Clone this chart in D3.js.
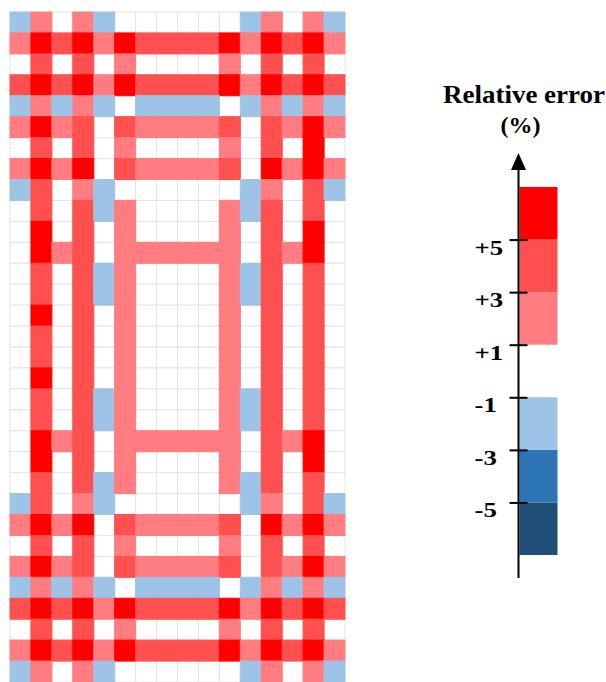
<!DOCTYPE html>
<html>
<head>
<meta charset="utf-8">
<script src="https://cdn.jsdelivr.net/npm/d3@7"></script>
<style>
  body { margin: 0; background: #fff; }
  svg { display: block; }
  .serif { font-family: "Liberation Serif", "Times New Roman", "DejaVu Serif", serif; font-weight: bold; }
</style>
</head>
<body>
<svg id="chart"></svg>
<script>
// relative error (%) per cell, one array per grid row (top to bottom)
// -2 = between -1 and -3, 0 = within +-1, 2 = +1..+3, 4 = +3..+5, 6 = above +5
var errorRows = [
  [-2, 2, 0, 2,-2, 0, 0, 0, 0, 0, 0,-2, 2, 0, 2,-2],
  [ 2, 6, 4, 6, 2, 6, 4, 4, 4, 4, 6, 2, 6, 4, 6, 2],
  [ 0, 4, 0, 4, 0, 2, 0, 0, 0, 0, 2, 0, 4, 0, 4, 0],
  [ 4, 6, 4, 6, 2, 6, 4, 4, 4, 4, 6, 2, 6, 4, 6, 4],
  [-2, 2,-2, 2,-2, 0,-2,-2,-2,-2, 0,-2, 2,-2, 2,-2],
  [ 2, 6, 2, 4, 0, 4, 2, 2, 2, 2, 4, 0, 4, 2, 6, 2],
  [ 0, 4, 0, 4, 0, 2, 0, 0, 0, 0, 2, 0, 4, 0, 6, 0],
  [ 2, 6, 2, 6, 0, 4, 2, 2, 2, 2, 4, 0, 6, 2, 6, 2],
  [-2, 4, 0, 2,-2, 0, 0, 0, 0, 0, 0,-2, 2, 0, 4,-2],
  [ 0, 4, 0, 4,-2, 2, 0, 0, 0, 0, 2,-2, 4, 0, 4, 0],
  [ 0, 6, 0, 4, 0, 2, 0, 0, 0, 0, 2, 0, 4, 0, 6, 0],
  [ 0, 6, 2, 4, 0, 2, 2, 2, 2, 2, 2, 0, 4, 2, 6, 0],
  [ 0, 4, 0, 4,-2, 2, 0, 0, 0, 0, 2,-2, 4, 0, 4, 0],
  [ 0, 4, 0, 4,-2, 2, 0, 0, 0, 0, 2,-2, 4, 0, 4, 0],
  [ 0, 6, 0, 4, 0, 2, 0, 0, 0, 0, 2, 0, 4, 0, 4, 0],
  [ 0, 4, 0, 4, 0, 2, 0, 0, 0, 0, 2, 0, 4, 0, 4, 0],
  [ 0, 4, 0, 4, 0, 2, 0, 0, 0, 0, 2, 0, 4, 0, 4, 0],
  [ 0, 6, 0, 4, 0, 2, 0, 0, 0, 0, 2, 0, 4, 0, 4, 0],
  [ 0, 4, 0, 4,-2, 2, 0, 0, 0, 0, 2,-2, 4, 0, 4, 0],
  [ 0, 4, 0, 4,-2, 2, 0, 0, 0, 0, 2,-2, 4, 0, 4, 0],
  [ 0, 6, 2, 4, 0, 2, 2, 2, 2, 2, 2, 0, 4, 2, 6, 0],
  [ 0, 6, 0, 4, 0, 2, 0, 0, 0, 0, 2, 0, 4, 0, 6, 0],
  [ 0, 4, 0, 4,-2, 2, 0, 0, 0, 0, 2,-2, 4, 0, 4, 0],
  [-2, 4, 0, 2,-2, 0, 0, 0, 0, 0, 0,-2, 2, 0, 4,-2],
  [ 2, 6, 2, 6, 0, 4, 2, 2, 2, 2, 4, 0, 6, 2, 6, 2],
  [ 0, 4, 0, 4, 0, 2, 0, 0, 0, 0, 2, 0, 4, 0, 4, 0],
  [ 2, 6, 2, 4, 0, 4, 2, 2, 2, 2, 4, 0, 4, 2, 6, 2],
  [-2, 2,-2, 2,-2, 0,-2,-2,-2,-2, 0,-2, 2,-2, 2,-2],
  [ 4, 6, 4, 6, 2, 6, 4, 4, 4, 4, 6, 2, 6, 4, 6, 4],
  [ 0, 4, 0, 4, 0, 2, 0, 0, 0, 0, 2, 0, 4, 0, 4, 0],
  [ 2, 6, 4, 6, 2, 6, 4, 4, 4, 4, 6, 2, 6, 4, 6, 2],
  [-2, 2, 0, 2,-2, 0, 0, 0, 0, 0, 0,-2, 2, 0, 2,-2]
];

// colour classes of the legend
var classBreaks = [-5, -3, -1, 1, 3, 5];
var classColors = ["#1f4e79", "#2e75b6", "#9dc3e6", "#ffffff", "#ff7c80", "#ff5050", "#ff0000"];
var tickValues = [5, 3, 1, -1, -3, -5];
var legendRange = [-7, 7];

var W = 606, H = 682;
var grid = { left: 10, right: 345, top: 12, bottom: 682 };
var gridLineColor = "#e4e4e4";

var svg = d3.select("#chart").attr("width", W).attr("height", H);

var nRows = errorRows.length;
var nCols = errorRows[0].length;

var x = d3.scaleBand().domain(d3.range(nCols)).range([grid.left, grid.right]);
var y = d3.scaleBand().domain(d3.range(nRows)).range([grid.top, grid.bottom]);
var color = d3.scaleThreshold().domain(classBreaks).range(classColors);

var cells = [];
errorRows.forEach(function(row, r) {
    row.forEach(function(v, c) {
        cells.push({ r: r, c: c, v: v });
    });
});

// white cells first so their grey border sits under the coloured ones
cells.sort(function(a, b) { return (a.v !== 0) - (b.v !== 0); });

svg.append("g")
    .selectAll("rect")
    .data(cells)
    .enter()
    .append("rect")
    .attr("x", function(d) { return x(d.c); })
    .attr("y", function(d) { return y(d.r); })
    .attr("width", x.bandwidth())
    .attr("height", y.bandwidth())
    .attr("fill", function(d) { return color(d.v); })
    .attr("stroke", function(d) { return d.v === 0 ? gridLineColor : color(d.v); })
    .attr("stroke-width", 1);

// legend
var legX = 518.5;
var ly = d3.scaleLinear().domain(legendRange).range([555, 187]);
var legend = svg.append("g");

var bands = [];
var edges = [legendRange[0]].concat(classBreaks, [legendRange[1]]);
for (var i = 0; i < classColors.length; i++) {
    bands.push({ lo: edges[i], hi: edges[i + 1], color: classColors[i] });
}
legend.selectAll("rect")
    .data(bands.filter(function(b) { return b.color !== "#ffffff"; }))
    .enter()
    .append("rect")
    .attr("x", legX + 1)
    .attr("y", function(d) { return ly(d.hi); })
    .attr("width", 38)
    .attr("height", function(d) { return ly(d.lo) - ly(d.hi); })
    .attr("fill", function(d) { return d.color; });

var axis = d3.axisLeft(ly)
    .tickValues(tickValues)
    .tickSize(9)
    .tickFormat(function(d) { return d > 0 ? "+" + d : String(d); });

var axisG = legend.append("g")
    .attr("transform", "translate(" + legX + ",0)")
    .call(axis);
axisG.attr("font-family", null).attr("font-size", null);
axisG.select(".domain").remove();
axisG.selectAll("line")
    .attr("x1", 9)
    .attr("x2", -9)
    .attr("stroke", "#000")
    .attr("stroke-width", 2);
// labels are set in a wide bold serif, so stretch them sideways a bit
axisG.selectAll("text")
    .attr("class", "serif")
    .attr("x", 0)
    .attr("dy", null)
    .attr("transform", "translate(-44,14.5) scale(1.22,1)")
    .attr("text-anchor", "start")
    .attr("fill", "#000")
    .style("font-size", "22px");

legend.append("line")
    .attr("x1", legX).attr("x2", legX)
    .attr("y1", 160).attr("y2", 578)
    .attr("stroke", "#000")
    .attr("stroke-width", 2);

var arrowTop = 153;
legend.append("path")
    .attr("d", "M" + legX + "," + arrowTop + " L" + (legX + 7.5) + "," + (arrowTop + 17) +
        " L" + (legX - 7.5) + "," + (arrowTop + 17) + " Z")
    .attr("fill", "#000");

legend.append("text")
    .attr("class", "serif")
    .attr("x", 443)
    .attr("y", 103)
    .attr("textLength", 162)
    .attr("lengthAdjust", "spacingAndGlyphs")
    .style("font-size", "25px")
    .text("Relative error");
legend.append("text")
    .attr("class", "serif")
    .attr("x", 520.5)
    .attr("y", 133)
    .attr("text-anchor", "middle")
    .style("font-size", "24px")
    .text("(%)");
</script>
</body>
</html>
